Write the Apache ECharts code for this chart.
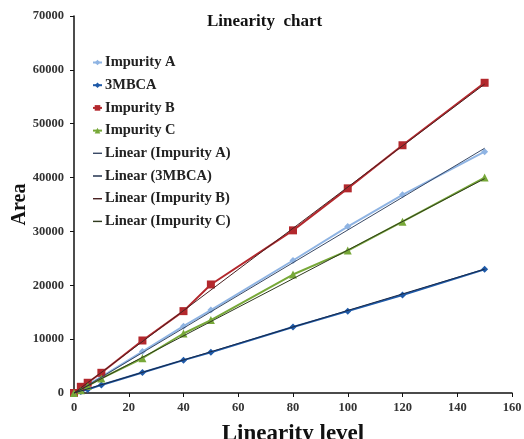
<!DOCTYPE html>
<html><head><meta charset="utf-8">
<script src="https://cdn.jsdelivr.net/npm/echarts@6/dist/echarts.min.js"></script>
<style>html,body{margin:0;padding:0;background:#fff}#c{width:524px;height:439px}</style>
</head><body><div id="c"></div>
<script>
const levels = [0, 2.5, 5, 10, 25, 40, 50, 80, 100, 120, 150];
const impurityA = [0, 700, 1500, 3000, 7700, 12400, 15400, 24600, 30900, 36800, 44800];
const mbca3 = [0, 300, 650, 1500, 3800, 6100, 7550, 12250, 15200, 18200, 22960];
const impurityB = [0, 1150, 1900, 3750, 9750, 15200, 20150, 30200, 38000, 46000, 57600];
const impurityC = [0, 500, 1300, 2700, 6450, 11050, 13550, 22000, 26450, 31800, 40000];
const trendX = [0, 150];
const trendA = [-100, 45450];
const trendM = [0, 23000];
const trendB = [0, 57350];
const trendC = [0, 39800];
const xTicks = [0, 160, 20];
const yTicks = [0, 70000, 10000];

const pair = (xs, ys) => xs.map((x, i) => [x, ys[i]]);
const F = '"Liberation Serif","DejaVu Serif",serif';
const chart = echarts.init(document.getElementById('c'));
const dash = 'path://M0,0 L10,0 L10,1.6 L0,1.6 Z';

function dataSeries(name, ys, color, symbol, size) {
  return {name, type: 'line', data: pair(levels, ys), symbol, symbolSize: size,
    lineStyle: {color, width: 2}, itemStyle: {color}, z: 3};
}
function trendSeries(name, ys, color) {
  return {name, type: 'line', data: pair(trendX, ys), symbol: 'none', showSymbol: false,
    lineStyle: {color, width: 1}, itemStyle: {color}, z: 4};
}
chart.setOption({
  animation: false,
  title: {text: 'Linearity  chart', left: 202, top: 8,
    textStyle: {fontFamily: F, fontWeight: 'bold', fontSize: 17, color: '#111'}},
  legend: {orient: 'vertical', left: 87, top: 50, itemWidth: 9, itemHeight: 7, itemGap: 7.7,
    symbolKeepAspect: true,
    textStyle: {fontFamily: F, fontWeight: 'bold', fontSize: 14.5, color: '#222', padding: [0,0,0,-2]},
    data: ['Impurity A', '3MBCA', 'Impurity B', 'Impurity C',
      {name: 'Linear (Impurity A)', icon: dash}, {name: 'Linear (3MBCA)', icon: dash},
      {name: 'Linear (Impurity B)', icon: dash}, {name: 'Linear (Impurity C)', icon: dash}]},
  grid: {left: 74, right: 12, top: 16, bottom: 46, containLabel: false, outerBoundsMode: 'none'},
  xAxis: {type: 'value', min: xTicks[0], max: xTicks[1], interval: xTicks[2],
    name: 'Linearity level', nameLocation: 'middle', nameGap: 30,
    nameTextStyle: {fontFamily: F, fontWeight: 'bold', fontSize: 23, color: '#111'},
    axisLine: {lineStyle: {color: '#111', width: 1.5}},
    axisTick: {show: true, length: 4, lineStyle: {color: '#111'}},
    axisLabel: {fontFamily: F, fontWeight: 'bold', fontSize: 12.5, color: '#333', margin: 8},
    splitLine: {show: false}},
  yAxis: {type: 'value', min: yTicks[0], max: yTicks[1], interval: yTicks[2],
    name: 'Area', nameLocation: 'middle', nameGap: 44, nameRotate: 90, nameMoveOverlap: false,
    nameTextStyle: {fontFamily: F, fontWeight: 'bold', fontSize: 20, color: '#111'},
    axisLine: {show: true, lineStyle: {color: '#111', width: 1.5}},
    axisTick: {show: true, length: 4, lineStyle: {color: '#111'}},
    axisLabel: {fontFamily: F, fontWeight: 'bold', fontSize: 12.5, color: '#333', margin: 10,
      formatter: v => String(v)},
    splitLine: {show: false}},
  series: [
    dataSeries('Impurity A', impurityA, '#8fb4e3', 'diamond', 7),
    dataSeries('3MBCA', mbca3, '#1f5aa8', 'diamond', 7),
    dataSeries('Impurity B', impurityB, '#b3282d', 'rect', 8),
    dataSeries('Impurity C', impurityC, '#77a838', 'triangle', 8),
    trendSeries('Linear (Impurity A)', trendA, '#3a4a66'),
    trendSeries('Linear (3MBCA)', trendM, '#1a2a48'),
    trendSeries('Linear (Impurity B)', trendB, '#4a2222'),
    trendSeries('Linear (Impurity C)', trendC, '#2f3a1e')
  ]
});
</script></body></html>
